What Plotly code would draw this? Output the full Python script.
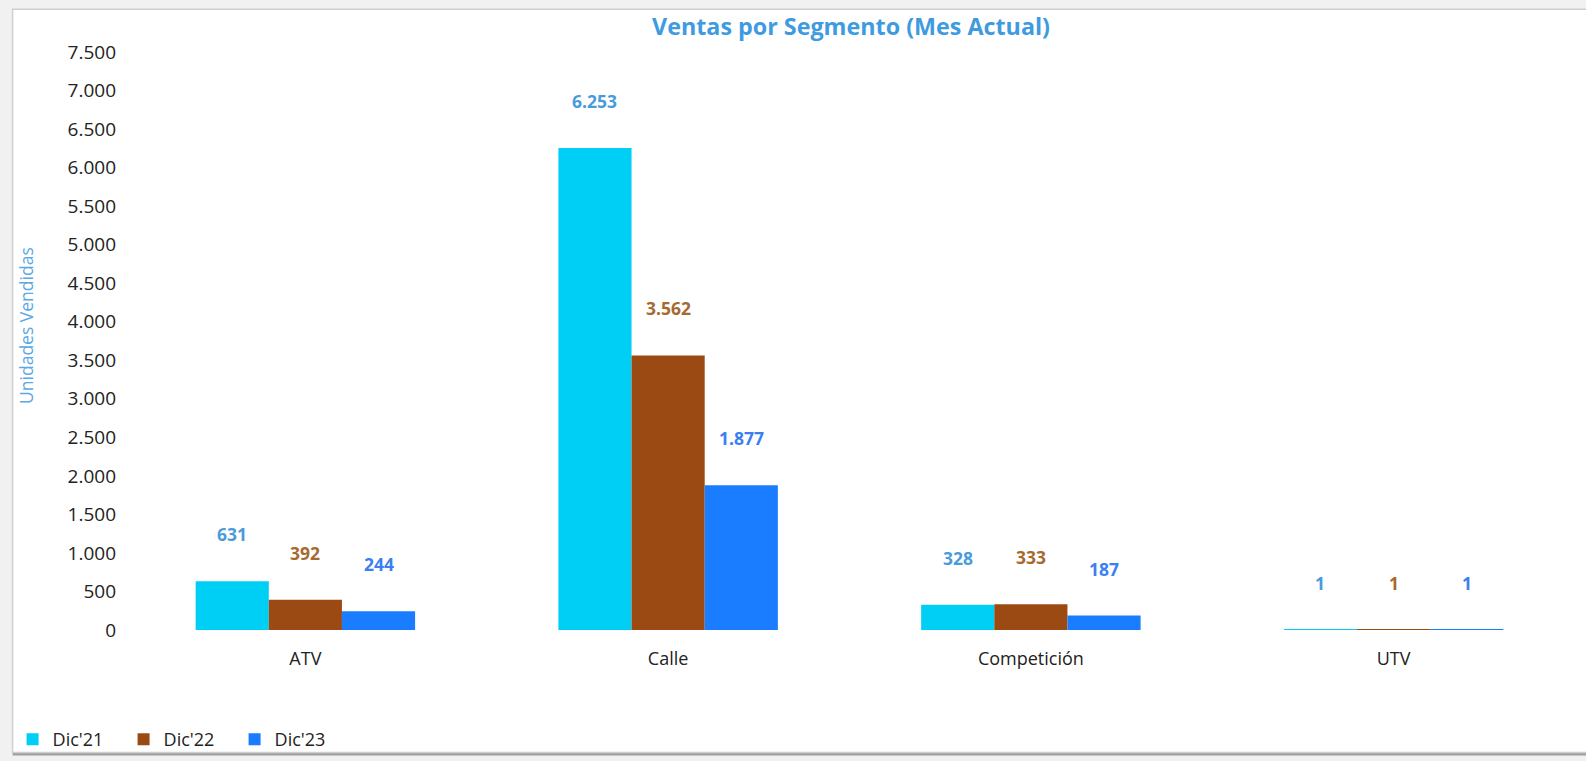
import plotly.graph_objects as go

# ---- data ----
categories = ["ATV", "Calle", "Competición", "UTV"]
series_names = ["Dic'21", "Dic'22", "Dic'23"]
dic21 = [631, 6253, 328, 1]
dic22 = [392, 3562, 333, 1]
dic23 = [244, 1877, 187, 1]
y_ticks = list(range(0, 7501, 500))

# ---- style ----
W, H = 1586, 761
L, R, T, B = 123.5, 10.5, 51.7, 131
PW = W - L - R
PH = H - T - B
bar_colors = ["#00CFF5", "#9B4A14", "#1A7CFF"]
label_colors = ["#4A9BDA", "#A8692F", "#3B7FF2"]
FONT = "Open Sans"

def px_x(p):
    return (p - L) / PW

def px_y(p):
    return (H - B - p) / PH

fig = go.Figure()
series = [dic21, dic22, dic23]
for name, vals, col in zip(series_names, series, bar_colors):
    fig.add_trace(go.Bar(
        x=categories, y=vals, name=name,
        marker=dict(color=col, line=dict(width=0)),
        hoverinfo="x+y+name",
    ))

bar_w = PW / len(categories) * (1 - 0.395) / 3
offsets = [-bar_w, 0, bar_w]
for vals, lc, off in zip(series, label_colors, offsets):
    for c, v in zip(categories, vals):
        fig.add_annotation(
            x=c, y=v, xref="x", yref="y",
            text=f"{v:,}".replace(",", "."),
            showarrow=False, xshift=off, yshift=47,
            font=dict(family=FONT, size=17.5, color=lc, weight="bold"),
        )

# y-axis title
fig.add_annotation(
    x=px_x(25.5), y=px_y(325.7), xref="paper", yref="paper",
    xanchor="center", yanchor="middle",
    text="Unidades Vendidas", textangle=-90, showarrow=False,
    font=dict(family=FONT, size=17.5, color="#5AA8E4"),
)

# frame
shapes = [
    dict(type="rect", xref="paper", yref="paper",
         x0=px_x(12), x1=px_x(1600), y0=px_y(755.5), y1=px_y(9),
         line=dict(color="#A0A0A0", width=0), fillcolor="#A0A0A0", layer="below"),
    dict(type="rect", xref="paper", yref="paper",
         x0=px_x(12), x1=px_x(1600), y0=px_y(752.5), y1=px_y(9),
         line=dict(color="#CFCFCF", width=1.5), fillcolor="white", layer="below"),
]

fig.update_layout(
    width=W, height=H,
    margin=dict(l=L, r=R, t=T, b=B, pad=0, autoexpand=False),
    paper_bgcolor="#F1F1F1", plot_bgcolor="rgba(0,0,0,0)",
    separators=",.",
    barmode="group", bargap=0.395, bargroupgap=0,
    shapes=shapes,
    font=dict(family=FONT, size=18, color="#222222"),
    title=dict(
        text="<b>Ventas por Segmento (Mes Actual)</b>",
        x=px_x(851), xref="paper", xanchor="center",
        y=1 - 27.3 / H, yref="container", yanchor="middle",
        font=dict(family=FONT, size=23.3, color="#3F9BE0"),
    ),
    xaxis=dict(
        showgrid=False, showline=False, zeroline=False, ticks="",
        tickfont=dict(family=FONT, size=18, color="#222222"),
        ticklabelstandoff=16,
    ),
    yaxis=dict(
        range=[0, 7500], tickvals=y_ticks, tickformat=",d",
        showgrid=False, showline=False, zeroline=False, ticks="",
        tickfont=dict(family=FONT, size=19, color="#222222"),
        ticklabelstandoff=7,
    ),
    showlegend=True,
    legend=dict(
        orientation="h", x=px_x(12), xanchor="left",
        y=px_y(721), yanchor="top",
        entrywidth=66, entrywidthmode="pixels",
        font=dict(family=FONT, size=18, color="#222222"),
        bgcolor="rgba(0,0,0,0)",
    ),
)

fig.write_html(
    "out.html",
    config={"displayModeBar": False},
    post_script="document.body.style.margin='0';document.body.style.padding='0';",
)
